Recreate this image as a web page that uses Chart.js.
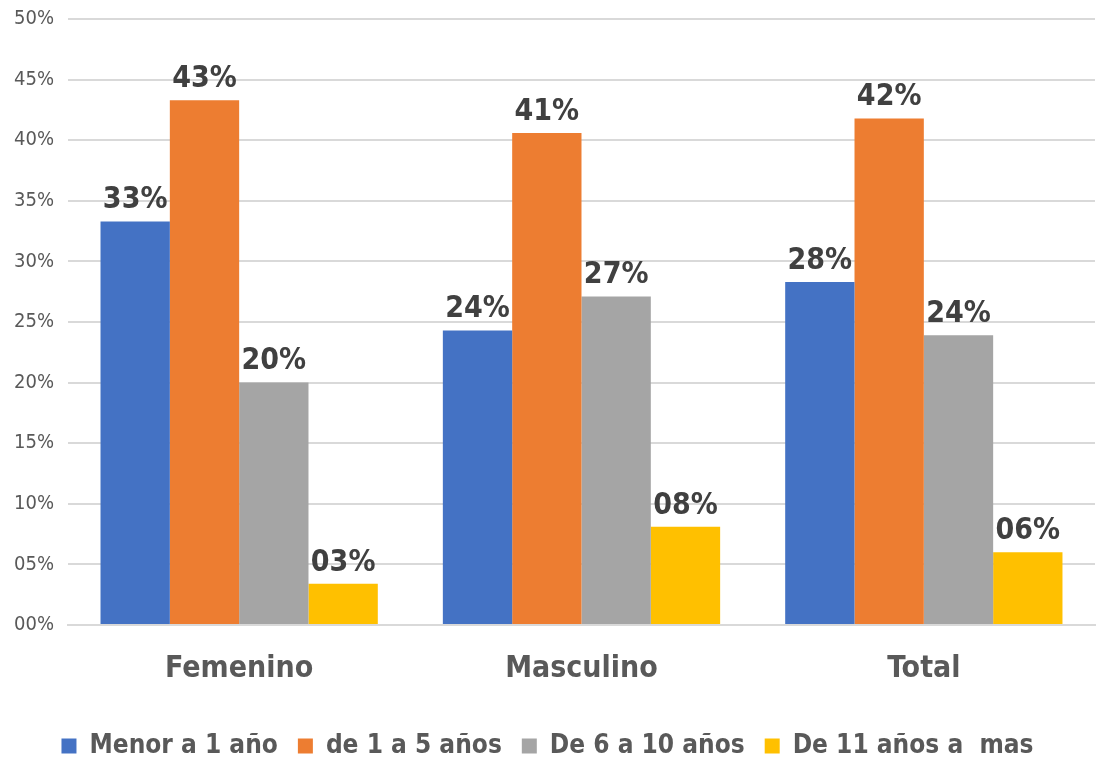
<!DOCTYPE html>
<html>
<head>
<meta charset="utf-8">
<script src="https://cdn.jsdelivr.net/npm/chart.js@4"></script>
<style>
  html, body { margin: 0; padding: 0; background: #fff; }
  canvas { display: block; }
</style>
</head>
<body>
<canvas id="chart" width="1100" height="763"></canvas>
<script>
const groups = ["Femenino", "Masculino", "Total"];
const seriesNames = ["Menor a 1 año", "de 1 a 5 años", "De 6 a 10 años", "De 11 años a  mas"];
const menor1 = [33.3, 24.3, 28.3];
const de1a5 = [43.3, 40.6, 41.8];
const de6a10 = [20.0, 27.1, 23.9];
const de11mas = [3.4, 8.1, 6.0];
const colors = ["#4472c4", "#ed7d31", "#a5a5a5", "#ffc000"];
const yTicks = [0, 5, 10, 15, 20, 25, 30, 35, 40, 45, 50];

const pad2 = (v) => String(Math.round(v)).padStart(2, "0") + "%";

// draws the value above each bar
const barLabels = {
  id: "barLabels",
  afterDatasetsDraw(chart) {
    const c = chart.ctx;
    c.save();
    c.font = "bold 30px 'DejaVu Sans Condensed'";
    c.fillStyle = "#404040";
    c.textAlign = "center";
    c.textBaseline = "bottom";
    chart.data.datasets.forEach((ds, i) => {
      chart.getDatasetMeta(i).data.forEach((bar, j) => {
        c.fillText(pad2(ds.data[j]), bar.x, bar.y - 6);
      });
    });
    c.restore();
  }
};

const allSeries = [menor1, de1a5, de6a10, de11mas];

new Chart(document.getElementById("chart"), {
  type: "bar",
  data: {
    labels: groups,
    datasets: allSeries.map((d, i) => ({
      label: seriesNames[i],
      data: d,
      backgroundColor: colors[i],
      categoryPercentage: 0.81,
      barPercentage: 1.0,
    })),
  },
  options: {
    responsive: false,
    animation: false,
    devicePixelRatio: 1,
    layout: { padding: { left: 0, right: 5, top: 0, bottom: -6 } },
    plugins: {
      legend: {
        position: "bottom",
        labels: {
          boxWidth: 15,
          boxHeight: 15,
          padding: 20,
          color: "#595959",
          font: { family: "'DejaVu Sans Condensed'", size: 26, weight: "bold" },
        },
      },
      tooltip: { enabled: false },
    },
    scales: {
      x: {
        grid: { display: false },
        border: { color: "#d9d9d9", width: 2 },
        afterFit(axis) { axis.height += 8; },
        ticks: {
          color: "#595959",
          padding: 18,
          maxRotation: 0,
          font: { family: "'DejaVu Sans Condensed'", size: 30, weight: "bold" },
        },
      },
      y: {
        min: 0,
        max: 50,
        afterBuildTicks(axis) { axis.ticks = yTicks.map((v) => ({ value: v })); },
        afterFit(axis) { axis.paddingTop = 19; },
        grid: { color: "#d9d9d9", lineWidth: 2, drawTicks: false },
        border: { display: false },
        ticks: {
          color: "#595959",
          padding: 14,
          font: { family: "'DejaVu Sans Condensed'", size: 20 },
          callback: (v) => String(v).padStart(2, "0") + "%",
        },
      },
    },
  },
  plugins: [barLabels],
});
</script>
</body>
</html>
